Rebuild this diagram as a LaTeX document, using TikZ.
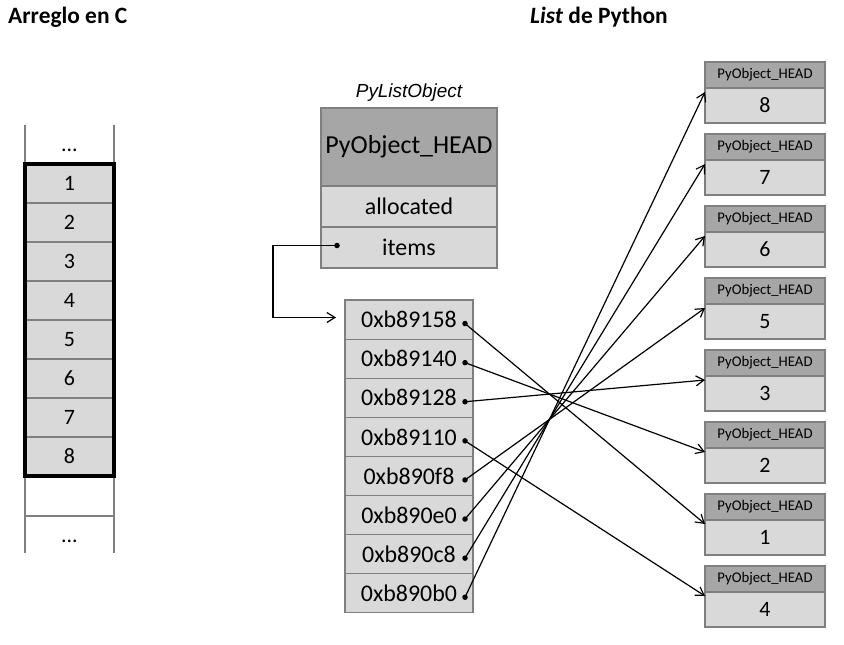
\documentclass[tikz,border=0pt]{standalone}
\usepackage{fontspec}
\setmainfont{Carlito}
\newfontfamily\arialfont{Liberation Sans}
\usetikzlibrary{arrows.meta, positioning, calc}
\definecolor{headgray}{HTML}{A6A6A6}
\definecolor{cellgray}{HTML}{D9D9D9}
\definecolor{linegray}{HTML}{7F7F7F}

\begin{document}
\begin{tikzpicture}[
    x=1bp, y=-1bp,
    % Styles
    heading/.style={font=\bfseries\fontsize{23.5}{26}\selectfont, inner sep=0pt},
    cell/.style={
        draw=linegray, fill=cellgray, line width=1.2bp, outer sep=0pt,
        minimum width=89bp, minimum height=39bp, inner sep=0pt,
        font=\fontsize{22}{24}\selectfont
    },
    field/.style={cell, minimum width=176bp, minimum height=41bp, font=\fontsize{24}{26}\selectfont},
    addr/.style={cell, minimum width=128bp, minimum height=39.1bp, font=\fontsize{24}{26}\selectfont},
    objhead/.style={cell, fill=headgray, minimum width=120bp, minimum height=26bp, font=\fontsize{14.8}{16}\selectfont},
    objval/.style={cell, minimum width=120bp, minimum height=35bp},
    ptr/.style={-{Straight Barb[length=8bp, width=10bp]}, line width=1.2bp},
    pdot/.style={circle, fill=black, inner sep=0pt, minimum size=5.5bp}
]
    \useasboundingbox (0,0) rectangle (844,645);

    % --- Titles ---
    \node[heading, anchor=west] (ctitle) at (8,17) {Arreglo en C};
    \node[heading] (pytitle) at (599,17) {\textit{List} de Python};

    % --- C array ---
    \draw[linegray, line width=1.2bp] (25,125) -- (25,553) (114,125) -- (114,553) (25,516) -- (114,516);
    \foreach \v [count=\i] in {1,...,8}
        \node[cell] (c\i) at (69.5, {144.5+39*\i}) {\v};
    \draw[line width=3.5bp] (c1.north west) rectangle (c8.south east);
    \node[font=\fontsize{22}{24}\selectfont] (ctop) at (69.5,150) {...};
    \node[font=\fontsize{22}{24}\selectfont] (cbot) at (69.5,541) {...};

    % --- PyListObject ---
    \node[field, fill=headgray, minimum height=78bp, font=\fontsize{26}{28}\selectfont] (head) at (409,147) {PyObject\_HEAD};
    \node[field, below=0pt of head] (alloc) {allocated};
    \node[field, below=0pt of alloc] (items) {items};
    \node[font=\arialfont\itshape\fontsize{19}{22}\selectfont, above=3bp of head] (pylist) {PyListObject};
    \node[pdot] (itemsdot) at ($(items.west)+(16,-2)$) {};

    % --- ob_item array ---
    \foreach \a [count=\i] in {0xb89158, 0xb89140, 0xb89128, 0xb89110, 0xb890f8, 0xb890e0, 0xb890c8, 0xb890b0} {
        \node[addr] (a\i) at (409, {280.45+39.1*\i}) {\a\hspace{3bp}};
        \node[pdot] (d\i) at ($(a\i.east)+(-8,4)$) {};
    }

    % --- Integer objects ---
    \foreach \v [count=\k] in {8,7,6,5,3,2,1,4} {
        \node[objhead] (h\v) at (765, {75+72*(\k-1)}) {PyObject\_HEAD};
        \node[objval, below=0pt of h\v] (o\v) {\v};
    }

    % --- Connections ---
    \coordinate (elbow) at ($(items.west)+(-48,70)$);
    \draw[ptr, shorten >=9bp] (itemsdot.center) -| (elbow) -- (elbow -| a1.west);
    \foreach \i in {1,...,8}
        \draw[ptr] (d\i.center) -- ($(o\i.north west)+(0,4)$);

\end{tikzpicture}
\end{document}
